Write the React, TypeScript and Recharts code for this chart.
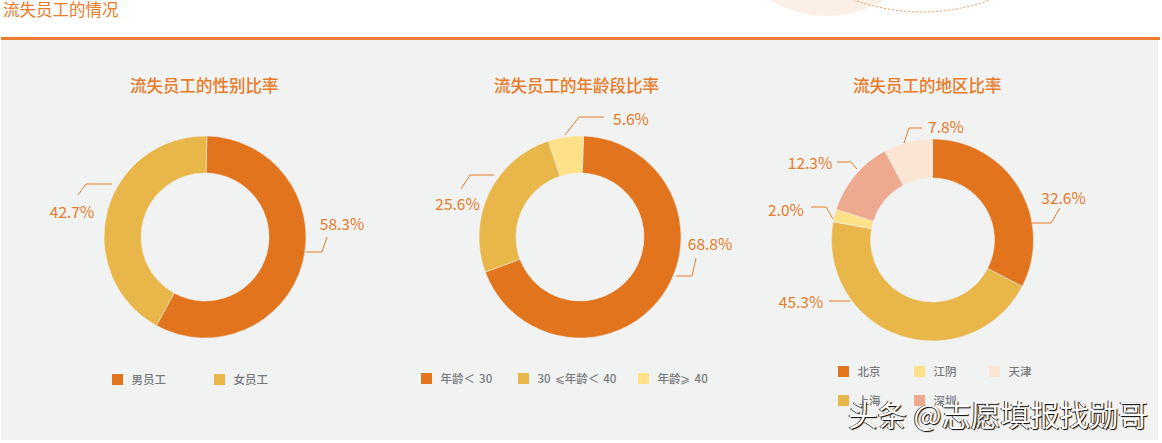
import { Cell, Legend, Pie, PieChart } from "recharts"

const FONT = '"Noto Sans CJK SC", "Noto Sans", sans-serif'
const ORANGE = "#e3741e"
const GOLD = "#e9b749"
const YELLOW = "#fee188"
const SALMON = "#eeaa8e"
const CREAM = "#fbe5d4"
const TEXT_ORANGE = "#e87a28"

const genderNames = ["男员工", "女员工"]
const genderValues = [58.3, 42.7]
const genderColors = [ORANGE, GOLD]

const ageNames = ["年龄＜ 30", "30 ⩽年龄＜ 40", "年龄⩾ 40"]
const ageValues = [68.8, 25.6, 5.6]
const ageColors = [ORANGE, GOLD, YELLOW]

const regionNames = ["北京", "上海", "江阴", "深圳", "天津"]
const regionValues = [32.6, 45.3, 2.0, 12.3, 7.8]
const regionColors = [ORANGE, GOLD, YELLOW, SALMON, CREAM]

// leader lines, relative to the pie centre: [polyline points, label position]
type Leader = { line: number[][]; text: number[] }
const genderLeaders: Leader[] = [
  { line: [[101, 15], [117, 15], [122, 0]], text: [137, -14] },
  { line: [[-127, -42], [-119, -53], [-93, -53]], text: [-133, -26] },
]
const ageLeaders: Leader[] = [
  { line: [[96, 39], [112, 39], [116, 21]], text: [130, 6] },
  { line: [[-119, -48], [-110, -62], [-86, -62]], text: [-122.5, -34] },
  { line: [[-15, -102], [-1, -120], [24, -120]], text: [51, -119] },
]
const regionLeaders: Leader[] = [
  { line: [[99.5, -17], [118.5, -17], [127.5, -32]], text: [131, -43] },
  { line: [[-82.5, 61], [-103.5, 61]], text: [-131.5, 61] },
  { line: [[-99.5, -21], [-106.5, -33], [-121.5, -33]], text: [-146.5, -31] },
  { line: [[-75.5, -71], [-81.5, -78], [-95.5, -78]], text: [-122.5, -78] },
  { line: [[-28.5, -97], [-23.5, -112], [-10.5, -112]], text: [13.5, -114] },
]

// legend slots: [name index, x, y] in chart coordinates
const genderLegend = [[0, 112, 334], [1, 214, 334]]
const ageLegend = [[0, 36, 333], [1, 133, 333], [2, 253, 333]]
const regionLegend = [[0, 138, 326], [2, 214, 326], [4, 289, 326], [1, 138, 355], [3, 214, 355]]

function makeLabel(leaders: Leader[]) {
  return ({ cx, cy, index, value }: any) => {
    const l = leaders[index]
    return (
      <g key={index}>
        <polyline
          points={l.line.map((p) => `${cx + p[0]},${cy + p[1]}`).join(" ")}
          fill="none"
          stroke={TEXT_ORANGE}
          strokeWidth={1}
        />
        <text
          x={cx + l.text[0]}
          y={cy + l.text[1]}
          textAnchor="middle"
          dominantBaseline="central"
          fontSize={15.5}
          fontFamily={FONT}
          fill={TEXT_ORANGE}
        >
          {`${value.toFixed(1)}%`}
        </text>
      </g>
    )
  }
}

function Donut({ left, width, title, titleX, names, values, colors, leaders, legend, cx, cy, inner, start }: any) {
  const rows = names.map((name: string, i: number) => ({ name, value: values[i] }))
  return (
    <div style={{ position: "absolute", left, top: 40, width, height: 400 }}>
      <div
        style={{
          position: "absolute",
          left: titleX,
          top: 32,
          fontSize: 16.5,
          lineHeight: "26px",
          fontWeight: 500,
          whiteSpace: "nowrap",
          color: TEXT_ORANGE,
          fontFamily: FONT,
        }}
      >
        {title}
      </div>
      <PieChart width={width} height={400} margin={{ top: 0, right: 0, bottom: 0, left: 0 }}>
        <Pie
          data={rows}
          dataKey="value"
          nameKey="name"
          cx={cx}
          cy={cy}
          innerRadius={inner}
          outerRadius={101}
          startAngle={start}
          endAngle={start - 360}
          stroke="#f1f3f2"
          strokeWidth={0.5}
          labelLine={false}
          label={makeLabel(leaders)}
          isAnimationActive={false}
        >
          {rows.map((r: any, i: number) => (
            <Cell key={r.name} fill={colors[i]} />
          ))}
        </Pie>
        <Legend
          wrapperStyle={{ position: "absolute", left: 0, top: 0, width, height: 400, pointerEvents: "none" }}
          content={() => (
            <>
              {legend.map(([idx, x, y]: number[]) => (
                <div key={idx}>
                  <div
                    style={{
                      position: "absolute",
                      left: x,
                      top: y,
                      width: 11,
                      height: 11,
                      background: colors[idx],
                    }}
                  />
                  <div
                    style={{
                      position: "absolute",
                      left: x + 19.5,
                      top: y - 3.5,
                      fontSize: 11.5,
                      lineHeight: "17px",
                      fontWeight: 500,
                      wordSpacing: 1.5,
                      whiteSpace: "nowrap",
                      color: "#77787b",
                      fontFamily: FONT,
                    }}
                  >
                    {names[idx]}
                  </div>
                </div>
              ))}
            </>
          )}
        />
      </PieChart>
    </div>
  )
}

export default function App() {
  return (
    <div style={{ position: "absolute", left: 0, top: 0, width: 1162, height: 443, background: "#fff", overflow: "hidden" }}>
      <svg width={1162} height={40} style={{ position: "absolute", left: 0, top: 0 }}>
        <circle cx={827} cy={-93.5} r={109.5} fill="#fbf0e8" />
        <circle cx={922} cy={-184} r={196} fill="none" stroke="#ee8f45" strokeWidth={1} strokeDasharray="2 2" />
      </svg>
      <div
        style={{
          position: "absolute",
          left: 3,
          top: 0,
          fontSize: 16.5,
          lineHeight: "18px",
          color: TEXT_ORANGE,
          fontFamily: FONT,
        }}
      >
        流失员工的情况
      </div>
      <div style={{ position: "absolute", left: 1, top: 37, width: 1159, height: 3, background: "#ec7c30" }} />
      <div style={{ position: "absolute", left: 1, top: 40, width: 1157, height: 400, background: "#f1f3f2" }} />

      <Donut
        left={0}
        width={385}
        title="流失员工的性别比率"
        titleX={130}
        names={genderNames}
        values={genderValues}
        colors={genderColors}
        leaders={genderLeaders}
        legend={genderLegend}
        cx={205}
        cy={197}
        inner={64}
        start={89}
      />
      <Donut
        left={385}
        width={385}
        title="流失员工的年龄段比率"
        titleX={109}
        names={ageNames}
        values={ageValues}
        colors={ageColors}
        leaders={ageLeaders}
        legend={ageLegend}
        cx={195}
        cy={197}
        inner={64}
        start={88}
      />
      <Donut
        left={700}
        width={458}
        title="流失员工的地区比率"
        titleX={153}
        names={regionNames}
        values={regionValues}
        colors={regionColors}
        leaders={regionLeaders}
        legend={regionLegend}
        cx={232.5}
        cy={200}
        inner={62}
        start={90}
      />

      <div
        style={{
          position: "absolute",
          left: 848,
          top: 393,
          fontSize: 29.5,
          lineHeight: "40px",
          whiteSpace: "nowrap",
          color: "#fff",
          fontFamily: FONT,
          textShadow: "1px 1px 1px #000, -1px 0 0 #333",
        }}
      >
        头条 @志愿填报找勋哥
      </div>
    </div>
  )
}
